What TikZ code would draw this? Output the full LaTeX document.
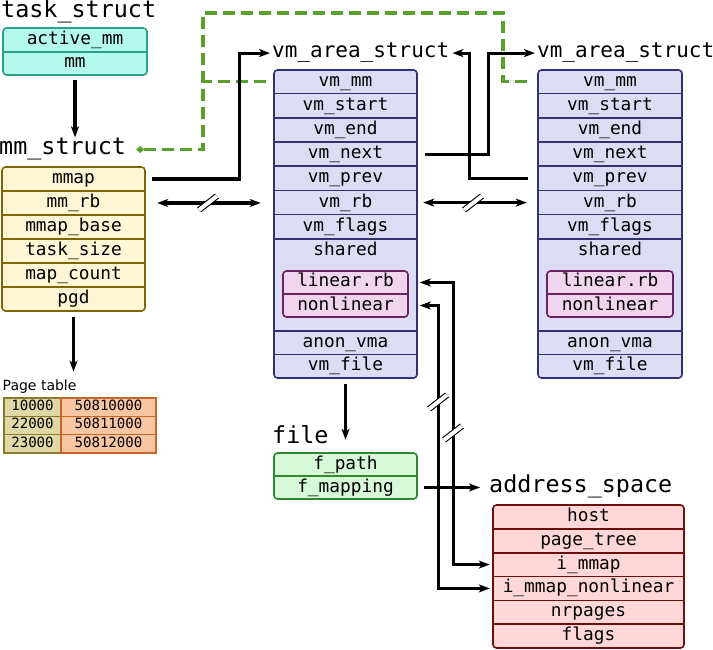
\documentclass[tikz,border=0pt]{standalone}
\usepackage{fontspec}
\setmainfont{DejaVu Sans}
\setmonofont{DejaVu Sans Mono}
\usetikzlibrary{arrows.meta}
\definecolor{tfill}{RGB}{180,250,236}
\definecolor{tline}{RGB}{44,160,137}
\definecolor{mfill}{RGB}{255,246,213}
\definecolor{mline}{RGB}{128,102,0}
\definecolor{vfill}{RGB}{220,220,245}
\definecolor{vline}{RGB}{50,50,112}
\definecolor{ifill}{RGB}{241,213,238}
\definecolor{iline}{RGB}{107,34,96}
\definecolor{ffill}{RGB}{215,249,215}
\definecolor{fline}{RGB}{47,138,47}
\definecolor{afill}{RGB}{255,215,215}
\definecolor{aline}{RGB}{107,15,15}
\definecolor{plfill}{RGB}{224,216,165}
\definecolor{plline}{RGB}{138,122,47}
\definecolor{prfill}{RGB}{249,198,163}
\definecolor{prline}{RGB}{200,101,42}
\definecolor{gdcol}{RGB}{90,160,44}
\newcommand\myrowfont{\fontsize{17.8}{20}\selectfont\ttfamily}
\newcommand\myttlfont{\fontsize{23.4}{26}\selectfont\ttfamily}
\newcommand\myvttlfont{\fontsize{21}{24}\selectfont\ttfamily}
\newcommand\myptfont{\fontsize{14.1}{16}\selectfont\ttfamily}
\newcommand\myptlabel{\fontsize{14}{16}\selectfont\rmfamily}
\begin{document}
\begin{tikzpicture}[x=1pt,y=-1pt,
  sbox/.style={draw, rounded corners=3.5pt, line width=1.6pt, inner sep=0},
  rowtxt/.style={inner sep=0, font=\myrowfont, text height=13pt, text depth=4pt, minimum height=23pt},
  ttl/.style={inner sep=0, font=\myttlfont, anchor=base west},
  vttl/.style={inner sep=0, font=\myvttlfont, anchor=base west},
  arr/.style={-{Stealth[length=11pt,width=8pt,inset=3pt]}, line width=3.2pt},
  darr/.style={{Stealth[length=11pt,width=8pt,inset=3pt]}-{Stealth[length=11pt,width=8pt,inset=3pt]}, line width=3.2pt},
  gdash/.style={draw=gdcol, line width=3.2pt, dash pattern=on 12pt off 6pt},
  divl/.style={line width=1.6pt},
  ptcell/.style={draw, line width=1.2pt, inner sep=0, font=\myptfont, text height=10pt, text depth=3pt, minimum height=18.3pt},
  brk/.pic={\draw[line width=1.1pt, double=white, double distance=4pt] (-9,7) -- (9,-7);}
]
\useasboundingbox (0,0) rectangle (713,650);

% ---------- task_struct ----------
\node[ttl] (tstitle) at (1,18) {task\_struct};
\node[sbox, fill=tfill, draw=tline, minimum width=144pt, minimum height=47pt] (task) at (75,51.5) {};
\node[rowtxt, minimum width=144pt] (tam) at (75,40) {active\_mm};
\node[rowtxt, minimum width=144pt] (tmm) at (75,63.5) {mm};
\draw[tline, divl] (task.west |- 0,52) -- (task.east |- 0,52);

% ---------- mm_struct ----------
\node[ttl] (mmtitle) at (-1,155) {mm\_struct};
\node[sbox, fill=mfill, draw=mline, minimum width=143pt, minimum height=144pt] (mm) at (73.5,239) {};
\foreach \n/\t [count=\i] in {mmap/mmap, mmrb/mm\_rb, mmbase/mmap\_base, tsize/task\_size, mcount/map\_count, pgd/pgd}
  \node[rowtxt, minimum width=143pt] (\n) at (73.5,{167+24*(\i-0.5)}) {\t};
\foreach \y in {191,215,239,263,287}
  \draw[mline, divl] (mm.west |- 0,\y) -- (mm.east |- 0,\y);

% ---------- page table ----------
\node[inner sep=0, font=\myptlabel, anchor=base west] (pttitle) at (2.5,390.5) {Page table};
\foreach \a/\b [count=\i] in {10000/50810000, 22000/50811000, 23000/50812000} {
  \node[ptcell, fill=plfill, draw=plline, minimum width=57pt] (pl\i) at (32.5,{398+18.33*(\i-0.5)}) {\a};
  \node[ptcell, fill=prfill, draw=prline, minimum width=95pt] (pr\i) at (108.5,{398+18.33*(\i-0.5)}) {\b};
}

% ---------- vm_area_struct 1 ----------
\node[vttl] (t1) at (272,58) {vm\_area\_struct};
\node[sbox, fill=vfill, draw=vline, minimum width=143pt, minimum height=308pt] (vma1) at (345.5,224) {};
\foreach \n/\t [count=\i] in {mm/vm\_mm, start/vm\_start, end/vm\_end, next/vm\_next, prev/vm\_prev, rb/vm\_rb, flags/vm\_flags}
  \node[rowtxt, minimum width=143pt] (v1\n) at (345.5,{69.5+24.2*(\i-0.5)}) {\t};
\node[rowtxt, minimum width=143pt] (v1sh) at (345.5,251) {shared};
\node[rowtxt, minimum width=143pt] (v1anon) at (345.5,342.75) {anon\_vma};
\node[rowtxt, minimum width=143pt] (v1file) at (345.5,366.25) {vm\_file};
\foreach \y in {93.7,117.9,142.1,166.3,190.5,214.7,238.9,331,354.5}
  \draw[vline, divl] (vma1.west |- 0,\y) -- (vma1.east |- 0,\y);
\node[sbox, fill=ifill, draw=iline, minimum width=125pt, minimum height=46pt] (in1) at (345.5,294) {};
\node[rowtxt, minimum width=125pt] (l1) at (345.5,282.5) {linear.rb};
\node[rowtxt, minimum width=125pt] (n1) at (345.5,305.5) {nonlinear};
\draw[iline, divl] (in1.west |- 0,294) -- (in1.east |- 0,294);

% ---------- vm_area_struct 2 ----------
\node[vttl] (t2) at (537,58) {vm\_area\_struct};
\node[sbox, fill=vfill, draw=vline, minimum width=144pt, minimum height=308pt] (vma2) at (610,224) {};
\foreach \n/\t [count=\i] in {mm/vm\_mm, start/vm\_start, end/vm\_end, next/vm\_next, prev/vm\_prev, rb/vm\_rb, flags/vm\_flags}
  \node[rowtxt, minimum width=144pt] (v2\n) at (610,{69.5+24.2*(\i-0.5)}) {\t};
\node[rowtxt, minimum width=144pt] (v2sh) at (610,251) {shared};
\node[rowtxt, minimum width=144pt] (v2anon) at (610,342.75) {anon\_vma};
\node[rowtxt, minimum width=144pt] (v2file) at (610,366.25) {vm\_file};
\foreach \y in {93.7,117.9,142.1,166.3,190.5,214.7,238.9,331,354.5}
  \draw[vline, divl] (vma2.west |- 0,\y) -- (vma2.east |- 0,\y);
\node[sbox, fill=ifill, draw=iline, minimum width=126pt, minimum height=46pt] (in2) at (610,294) {};
\node[rowtxt, minimum width=126pt] (l2) at (610,282.5) {linear.rb};
\node[rowtxt, minimum width=126pt] (n2) at (610,305.5) {nonlinear};
\draw[iline, divl] (in2.west |- 0,294) -- (in2.east |- 0,294);

% ---------- file ----------
\node[ttl] (ftitle) at (272,443) {file};
\node[sbox, fill=ffill, draw=fline, minimum width=143pt, minimum height=46pt] (file) at (345.5,476) {};
\node[rowtxt, minimum width=143pt] (fpath) at (345.5,464.5) {f\_path};
\node[rowtxt, minimum width=143pt] (fmap) at (345.5,487.5) {f\_mapping};
\draw[fline, divl] (file.west |- 0,476) -- (file.east |- 0,476);

% ---------- address_space ----------
\node[ttl] (astitle) at (489,492) {address\_space};
\node[sbox, fill=afill, draw=aline, minimum width=191pt, minimum height=143pt] (as) at (588.5,576.5) {};
\foreach \n/\t [count=\i] in {ahost/host, atree/page\_tree, aimmap/i\_mmap, anl/i\_mmap\_nonlinear, anr/nrpages, aflags/flags}
  \node[rowtxt, minimum width=191pt] (\n) at (588.5,{505+23.83*(\i-0.5)}) {\t};
\foreach \y in {528.8,552.7,576.5,600.3,624.2}
  \draw[aline, divl] (as.west |- 0,\y) -- (as.east |- 0,\y);

% ---------- connectors ----------
\draw[arr] ([yshift=-5pt]tmm.south) -- ([yshift=1pt]tmm.south |- mmtitle.north);
\draw[arr] ([yshift=-6pt]pgd.south) -- ([yshift=8pt]pgd.south |- pttitle.north);

\coordinate (gx) at (203,13);
\draw[gdash, -{Diamond[length=8pt,width=7pt,fill=gdcol]}] ([xshift=-11pt]v2mm.west) -| (503,13) -- (gx) |- ([xshift=10pt]mmtitle.east);
\draw[gdash] ([xshift=-8pt]v1mm.west) -- (v1mm.west -| gx);

\draw[arr] ([xshift=7pt]mmap.east) -- ++(87,0) |- ([xshift=-2pt]t1.west);
\draw[arr] ([xshift=8pt]v1next.east) -- ++(63,0) |- ([xshift=-2pt]t2.west);
\draw[arr] ([xshift=-10pt]v2prev.west) -- ++(-58,0) |- ([xshift=3pt]t1.east);

\draw[darr] ([xshift=12pt]mmrb.east) -- ([xshift=-13pt]v1rb.west |- mmrb.east);
\draw[darr] ([xshift=6pt]v1rb.east) -- ([xshift=-11pt]v2rb.west);

\draw[arr] ([yshift=-6pt]v1file.south) -- ([yshift=13pt]fpath.north);
\draw[arr] ([xshift=7pt]fmap.east) -- ([xshift=-9pt]astitle.west |- fmap.east);

\draw[darr] ([xshift=2pt]l1.east -| vma1.east) -- ++(34,0) |- ([xshift=-3pt]aimmap.west);
\draw[darr] ([xshift=2pt]n1.east -| vma1.east) -- ++(19,0) |- ([xshift=-3pt]anl.west);

% break marks
\pic at (208,203) {brk};
\pic at (473,203) {brk};
\pic at (438,402) {brk};
\pic at (453,433) {brk};
\end{tikzpicture}
\end{document}
